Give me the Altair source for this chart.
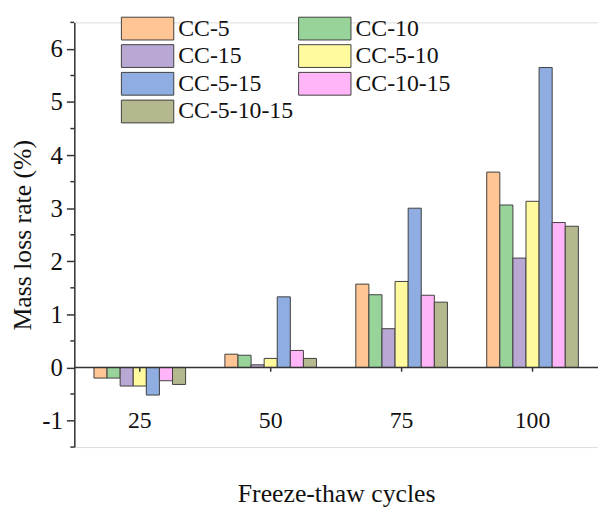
import altair as alt
import pandas as pd

cycles = ["25", "50", "75", "100"]
series = ["CC-5", "CC-10", "CC-15", "CC-5-10", "CC-5-15", "CC-10-15", "CC-5-10-15"]
colors = ["#FFC594", "#98D39A", "#B9A7D4", "#FFFA9E", "#8FADE0", "#FFB5F8", "#B5B78E"]

cc5 = [-0.20, 0.25, 1.57, 3.68]
cc10 = [-0.20, 0.23, 1.37, 3.06]
cc15 = [-0.35, 0.05, 0.73, 2.06]
cc5_10 = [-0.35, 0.17, 1.62, 3.13]
cc5_15 = [-0.52, 1.33, 3.00, 5.65]
cc10_15 = [-0.25, 0.32, 1.36, 2.73]
cc5_10_15 = [-0.32, 0.17, 1.23, 2.66]

major_ticks = [-1, 0, 1, 2, 3, 4, 5, 6]
minor_ticks = [-1.5, -0.5, 0.5, 1.5, 2.5, 3.5, 4.5, 5.5, 6.5]

vals = [cc5, cc10, cc15, cc5_10, cc5_15, cc10_15, cc5_10_15]
rows = []
for s, v in zip(series, vals):
    for c, y in zip(cycles, v):
        rows.append({"cycle": c, "series": s, "value": y})
df = pd.DataFrame(rows)

FONT = "Liberation Serif"
yscale = alt.Scale(domain=[-1.5, 6.5], nice=False, zero=False)

xenc = alt.X("cycle:N", sort=cycles,
             scale=alt.Scale(paddingInner=0.3, paddingOuter=0.15),
             axis=alt.Axis(title="Freeze-thaw cycles", domain=False, ticks=False,
                           labelAngle=0, labelPadding=0, offset=-39,
                           labelFontSize=24, labelFont=FONT, labelColor="#111",
                           titleFontSize=26, titleFont=FONT, titleFontWeight="normal",
                           titleColor="#111", titlePadding=49))

bars = alt.Chart(df).mark_bar(stroke="#404040", strokeWidth=1).encode(
    x=xenc,
    xOffset=alt.XOffset("series:N", sort=series,
                        scale=alt.Scale(paddingInner=0, paddingOuter=0)),
    y=alt.Y("value:Q", scale=yscale,
            axis=alt.Axis(title="Mass loss rate (%)", values=major_ticks, grid=False,
                          format="d", labelExpr="'' + datum.value",
                          tickSize=8,
                          domainColor="#333", domainWidth=1.5, tickColor="#333", tickWidth=1.5,
                          labelFontSize=25, labelFont=FONT, labelColor="#111", labelPadding=4,
                          titleFontSize=26, titleFont=FONT, titleFontWeight="normal",
                          titleColor="#111", titlePadding=6)),
    color=alt.Color("series:N", sort=series,
                    scale=alt.Scale(domain=series, range=colors),
                    legend=alt.Legend(title=None, orient="none", legendX=62, legendY=-6,
                                      columns=2, direction="horizontal",
                                      symbolType="M-2.3,-1L2.3,-1L2.3,1L-2.3,1Z",
                                      symbolSize=529, symbolStrokeColor="#404040",
                                      symbolStrokeWidth=1, symbolOpacity=1,
                                      labelFont=FONT, labelFontSize=24, labelColor="#111",
                                      labelOffset=19, columnPadding=3, rowPadding=0,
                                      padding=0, labelLimit=300)),
)

minor = alt.Chart(pd.DataFrame({"t": minor_ticks})).mark_rule(
    color="#333", strokeWidth=1.5
).encode(
    y=alt.Y("t:Q", scale=yscale),
    x=alt.value(-4),
    x2=alt.value(0),
)

zero = alt.Chart(alt.Data(values=[{"v": 0}])).mark_rule(color="#333", strokeWidth=1.5).encode(
    y=alt.Y("v:Q", scale=yscale)
)

ticks_df = pd.DataFrame({"cycle": cycles, "y0": [0] * 4, "y1": [-0.08] * 4})
cticks = alt.Chart(ticks_df).mark_rule(color="#333", strokeWidth=1.5).encode(
    x=alt.X("cycle:N", sort=cycles),
    y=alt.Y("y0:Q", scale=yscale),
    y2="y1:Q",
)

chart = alt.layer(bars, zero, cticks, minor).properties(
    width=529, height=429,
    autosize=alt.AutoSizeParams(type="none"),
    padding={"left": 67, "top": 12, "right": 0, "bottom": 60},
).configure_view(stroke=None).configure(background="white")

chart.save("out.html", embed_options={"renderer": "svg", "actions": False})
